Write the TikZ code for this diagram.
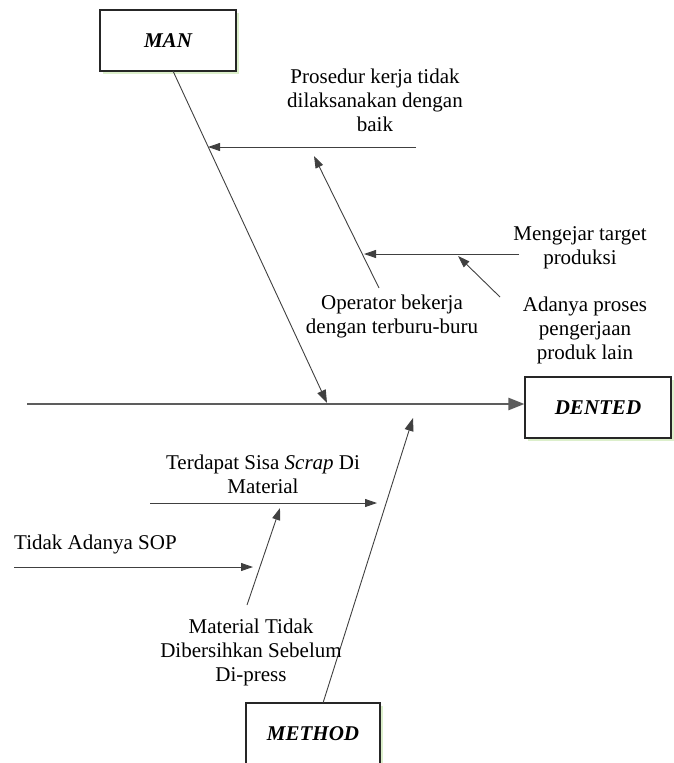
\documentclass[tikz,border=0pt]{standalone}
\usepackage{fontspec}
\setmainfont{Liberation Serif}
\usetikzlibrary{arrows.meta,shadows}
\definecolor{bone}{HTML}{404040}
\definecolor{boxshade}{HTML}{DCEFCB}
\tikzset{
  causebox/.style={draw=black!85, line width=1.1pt, fill=white,
    minimum height=61pt, inner sep=0pt,
    drop shadow={shadow xshift=3pt, shadow yshift=-3pt, fill=boxshade, opacity=1},
    font=\fontsize{21}{25}\selectfont\bfseries\itshape},
  bonearrow/.style={draw=bone, line width=0.9pt, -{Triangle[length=12pt,width=8pt]}},
  bonemain/.style={draw=bone, line width=0.9pt, -{Triangle[length=13pt,width=9pt]}},
  spine/.style={draw=bone!85, line width=2.4pt, -{Triangle[length=16pt,width=12pt]}},
  cause/.style={font=\fontsize{21}{24}\selectfont, align=center, inner sep=0pt},
}
\begin{document}
\begin{tikzpicture}[x=1pt,y=-1pt]
\useasboundingbox (0,0) rectangle (673,763);

% effect and main categories
\node[causebox, minimum width=146pt] (dented) at (598,407.5) {DENTED};
\node[causebox, minimum width=136pt] (man) at (168,40.5) {MAN};
\node[causebox, minimum width=134pt] (method) at (313,733.5) {METHOD};

% spine
\coordinate (spinestart) at (27,404);
\draw[spine] (spinestart) -- (dented.west |- spinestart);

% MAN branch
\coordinate (mantop) at (173,71);
\coordinate (mantip) at (327,403);
\draw[bonemain] (mantop) -- (mantip);

\coordinate (prosA) at (416,147);
\coordinate (prosB) at (208,147);
\draw[bonearrow] (prosA) -- (prosB);
\node[cause] (prosedur) at (375,100) {Prosedur kerja tidak\\dilaksanakan dengan\\baik};

\coordinate (operA) at (379,288);
\coordinate (operB) at (314,156);
\draw[bonearrow] (operA) -- (operB);
\node[cause] (operator) at (392,316) {Operator bekerja\\dengan terburu-buru};

\coordinate (targA) at (519,254);
\coordinate (targB) at (364,254);
\draw[bonearrow] (targA) -- (targB);
\node[cause] (target) at (580,248) {Mengejar target\\produksi};

\coordinate (lainA) at (500,297);
\coordinate (lainB) at (458,256);
\draw[bonearrow] (lainA) -- (lainB);
\node[cause] (produk) at (585,330) {Adanya proses\\pengerjaan\\produk lain};

% METHOD branch
\coordinate (methtop) at (323,703);
\coordinate (methtip) at (413,418);
\draw[bonemain] (methtop) -- (methtip);

\coordinate (scrapA) at (150,503);
\coordinate (scrapB) at (377,503);
\draw[bonearrow] (scrapA) -- (scrapB);
\node[cause] (scrap) at (263,474) {Terdapat Sisa \textit{Scrap} Di\\Material};

\coordinate (sopA) at (14,567);
\coordinate (sopB) at (253,567);
\draw[bonearrow] (sopA) -- (sopB);
\node[cause, anchor=west] (sop) at (14,544) {Tidak Adanya SOP};

\coordinate (bersA) at (247,605);
\coordinate (bersB) at (280,508);
\draw[bonearrow] (bersA) -- (bersB);
\node[cause] (bersih) at (251,652) {Material Tidak\\Dibersihkan Sebelum\\Di-press};
\end{tikzpicture}
\end{document}
